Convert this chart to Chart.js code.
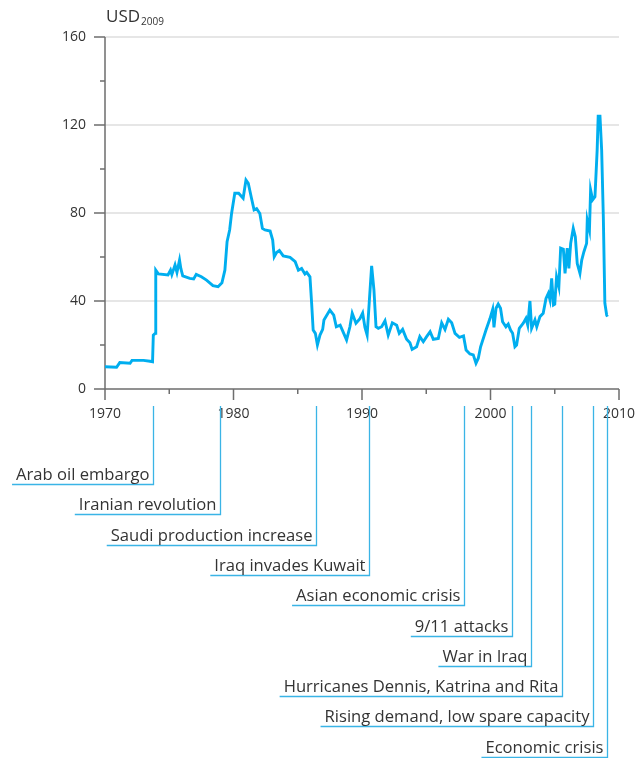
<!DOCTYPE html>
<html>
<head>
<meta charset="utf-8">
<script src="https://cdn.jsdelivr.net/npm/chart.js@4.4.1/dist/chart.umd.min.js"></script>
<style>
  body { margin: 0; background: #fff; }
</style>
</head>
<body>
<canvas id="oilChart" width="635" height="758"></canvas>
<script>
// oil price, USD 2009
const years = [1970.0, 1970.9, 1971.15, 1971.95, 1972.1, 1973.0, 1973.5, 1973.7, 1973.76, 1973.9, 1973.95,
  1974.15, 1974.9, 1975.1, 1975.2, 1975.45, 1975.6, 1975.8, 1975.9, 1976.05, 1976.6, 1976.9, 1977.1, 1977.5,
  1977.9, 1978.4, 1978.8, 1979.1, 1979.33, 1979.5, 1979.7, 1979.85, 1980.1, 1980.4, 1980.75, 1980.97, 1981.15,
  1981.4, 1981.6, 1981.8, 1982.05, 1982.25, 1982.45, 1982.85, 1983.05, 1983.17, 1983.35, 1983.57, 1983.87,
  1984.4, 1984.8, 1985.05, 1985.3, 1985.56, 1985.7, 1985.95, 1986.08, 1986.2, 1986.37, 1986.53, 1986.73,
  1986.94, 1987.04, 1987.5, 1987.8, 1988.0, 1988.3, 1988.8, 1989.06, 1989.24, 1989.53, 1989.84, 1990.05,
  1990.23, 1990.4, 1990.56, 1990.75, 1990.93, 1991.09, 1991.27, 1991.53, 1991.79, 1992.04, 1992.36, 1992.7,
  1992.9, 1993.16, 1993.47, 1993.73, 1993.9, 1994.25, 1994.5, 1994.77, 1995.03, 1995.3, 1995.55, 1995.94,
  1996.2, 1996.46, 1996.72, 1996.98, 1997.24, 1997.58, 1997.9, 1998.1, 1998.4, 1998.66, 1998.87, 1999.05,
  1999.23, 1999.65, 1999.96, 2000.17, 2000.27, 2000.43, 2000.6, 2000.78, 2000.94, 2001.2, 2001.38, 2001.56,
  2001.72, 2001.9, 2002.03, 2002.24, 2002.55, 2002.76, 2002.9, 2003.07, 2003.2, 2003.46, 2003.6, 2003.85,
  2004.1, 2004.32, 2004.5, 2004.63, 2004.76, 2004.9, 2005.0, 2005.14, 2005.32, 2005.46, 2005.67, 2005.8,
  2005.97, 2006.1, 2006.24, 2006.44, 2006.6, 2006.75, 2006.96, 2007.1, 2007.27, 2007.48, 2007.53, 2007.7,
  2007.79, 2007.95, 2008.13, 2008.3, 2008.38, 2008.52, 2008.65, 2008.78, 2008.9, 2009.04, 2009.1];
const prices = [10.1, 9.9, 12, 11.7, 13, 13, 12.6, 12.4, 24.5, 25.3, 54,
  52.3, 51.8, 54, 52, 56.4, 53, 58.6, 54.8, 51.4, 50.3, 50, 52.1, 51,
  49.5, 47, 46.5, 48.3, 54, 67, 72.3, 79.8, 89, 89, 86.7, 95, 93.5,
  86.7, 81.4, 82, 79.8, 73, 72.3, 71.8, 67.7, 60.1, 62, 62.9, 60.5,
  59.8, 57.9, 54, 54.8, 52.3, 53, 51, 39, 26.8, 25.3, 20, 24.5,
  27.1, 31.4, 35.9, 33.6, 28.3, 29, 22.3, 28.3, 34.4, 29.9, 32, 34.5,
  28, 24.5, 39, 56, 45, 28.3, 27.6, 28.3, 31, 24.5, 30.1, 29,
  25.3, 27.1, 22.6, 21, 18, 19.2, 23.8, 21.5, 23.8, 26, 22.6, 23,
  30.1, 27.1, 31.7, 30.1, 25.3, 23.5, 24.1, 17.7, 15.9, 15.5, 11.7, 14,
  19.2, 26.8, 32, 36.2, 28, 36.7, 38.6, 36.7, 30.6, 28.3, 29.5, 26.8,
  25.3, 19.2, 20, 27.6, 29.9, 32.1, 29, 40, 27.6, 31.4, 28.3, 32.9,
  34.4, 41.2, 43.5, 40.5, 50.3, 38.2, 38.6, 51, 46.5, 64, 63.5, 52.6,
  64, 54.8, 66.2, 73, 69.2, 57, 52.6, 58.6, 62.4, 66.2, 76.8, 72.3,
  90.5, 86, 87.4, 108.6, 124, 124, 108.6, 78.3, 39, 33.6, 32.9];

const xLabels = [1970, 1980, 1990, 2000, 2010];

const eventYears = [1973.75, 1978.95, 1986.4, 1990.55, 1997.9, 2001.67, 2003.15, 2005.56, 2007.98, 2009.07];
const eventLabels = ["Arab oil embargo", "Iranian revolution", "Saudi production increase", "Iraq invades Kuwait",
  "Asian economic crisis", "9/11 attacks", "War in Iraq", "Hurricanes Dennis, Katrina and Rita",
  "Rising demand, low spare capacity", "Economic crisis"];

const textColor = "#333333";
const lineBlue = "#00aeef";
const noteBlue = "#3ab4e6";

// axes with long/short ticks, drawn by hand
const axesPlugin = {
  id: "axes",
  beforeDatasetsDraw(chart) {
    const ctx = chart.ctx;
    const xs = chart.scales.x, ys = chart.scales.y;
    const area = chart.chartArea;
    ctx.save();
    ctx.strokeStyle = "#6e6e6e";
    ctx.lineWidth = 1.5;
    ctx.beginPath();
    ctx.moveTo(area.left, area.top);
    ctx.lineTo(area.left, area.bottom);
    ctx.lineTo(area.right, area.bottom);
    for (let v = 0; v <= 160; v += 20) {
      const y = ys.getPixelForValue(v);
      const len = v % 40 === 0 ? 11 : 5;
      ctx.moveTo(area.left - len, y);
      ctx.lineTo(area.left, y);
    }
    for (let v = 1970; v <= 2010; v += 5) {
      const x = xs.getPixelForValue(v);
      const len = v % 10 === 0 ? 11 : 5;
      ctx.moveTo(x, area.bottom);
      ctx.lineTo(x, area.bottom + len);
    }
    ctx.stroke();

    // year labels
    ctx.fillStyle = textColor;
    ctx.font = "14px 'Open Sans'";
    ctx.textAlign = "center";
    ctx.textBaseline = "middle";
    xLabels.forEach((yr) => ctx.fillText(String(yr), xs.getPixelForValue(yr), area.bottom + 25));

    // unit title
    ctx.textAlign = "left";
    ctx.textBaseline = "alphabetic";
    ctx.font = "17px 'Open Sans'";
    ctx.fillText("USD", area.left + 1, 22);
    const w = ctx.measureText("USD").width;
    ctx.font = "10px 'Open Sans'";
    ctx.fillText("2009", area.left + 1 + w + 1, 25);
    ctx.restore();
  },
  afterDraw(chart) {
    const ctx = chart.ctx;
    const xs = chart.scales.x;
    ctx.save();
    ctx.font = "16.6px 'Open Sans'";
    ctx.textAlign = "right";
    ctx.textBaseline = "alphabetic";
    ctx.lineWidth = 1.3;
    ctx.strokeStyle = noteBlue;
    ctx.fillStyle = textColor;
    eventLabels.forEach((label, i) => {
      const x = Math.round(xs.getPixelForValue(eventYears[i])) + 0.5;
      const yLine = Math.round(484 + i * 30.3) + 0.5;
      const tw = ctx.measureText(label).width;
      ctx.beginPath();
      ctx.moveTo(x, 406);
      ctx.lineTo(x, yLine);
      ctx.lineTo(x - 4 - tw - 4, yLine);
      ctx.stroke();
      ctx.fillText(label, x - 4, yLine - 5);
    });
    ctx.restore();
  }
};

const points = years.map((yr, i) => ({ x: yr, y: prices[i] }));

new Chart(document.getElementById("oilChart"), {
  type: "line",
  data: {
    datasets: [{
      data: points,
      borderColor: lineBlue,
      borderWidth: 2.9,
      pointRadius: 0,
      tension: 0,
      fill: false
    }]
  },
  options: {
    responsive: false,
    animation: false,
    layout: { padding: { top: 37, right: 16, bottom: 329, left: 0 } },
    plugins: { legend: { display: false }, tooltip: { enabled: false } },
    scales: {
      x: {
        type: "linear",
        min: 1970,
        max: 2010,
        afterFit: (s) => { s.height = 40; },
        border: { display: false },
        grid: { display: false, drawTicks: false },
        ticks: { display: false, stepSize: 10 }
      },
      y: {
        min: 0,
        max: 160,
        afterFit: (s) => { s.width = 105; },
        border: { display: false },
        grid: {
          drawTicks: false,
          lineWidth: 2,
          color: (c) => (c.tick && c.tick.value > 0 && c.tick.value % 40 === 0) ? "#e6e6e6" : "rgba(0,0,0,0)"
        },
        ticks: {
          stepSize: 20,
          padding: 19,
          color: textColor,
          font: { family: "Open Sans", size: 14 },
          callback: (v) => (v % 40 === 0 ? String(v) : "")
        }
      }
    }
  },
  plugins: [axesPlugin]
});
</script>
</body>
</html>
